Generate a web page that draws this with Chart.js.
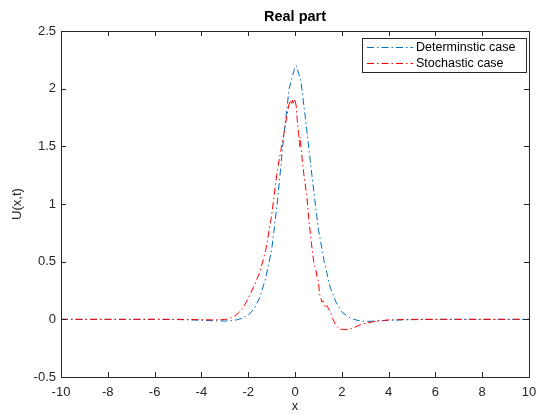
<!DOCTYPE html>
<html>
<head>
<meta charset="utf-8">
<script src="https://cdn.jsdelivr.net/npm/chart.js@4"></script>
<style>
  html, body { margin: 0; padding: 0; background: #fff; }
  #wrap { width: 537px; height: 414px; }
</style>
</head>
<body>
<div id="wrap"><canvas id="chart" width="537" height="414"></canvas></div>
<script>
// values
const chartTitle = 'Real part';
const xLabel = 'x';
const yLabel = 'U(x,t)';
const seriesNames = ['Determinstic case', 'Stochastic case'];
const seriesColors = ['#0072BD', '#FF0000'];

const detX = [-10, -6, -5, -4, -3.5, -3, -2.75, -2.5, -2.25, -2, -1.75, -1.5, -1.25, -1, -0.75, -0.5, -0.25, 0, 0.05, 0.25, 0.5, 0.75, 1, 1.25, 1.5, 1.75, 2, 2.25, 2.5, 2.75, 3, 3.5, 4, 5, 6, 10];
const detY = [0, 0, -0.002, -0.008, -0.012, -0.015, -0.012, -0.005, 0.01, 0.035, 0.09, 0.19, 0.36, 0.6, 1.02, 1.55, 2.0, 2.19, 2.2, 2.07, 1.65, 1.2, 0.78, 0.5, 0.28, 0.15, 0.065, 0.025, 0, -0.012, -0.018, -0.015, -0.008, -0.003, 0, 0];

const stoX = [-10, -8, -6, -5, -4, -3.5, -3, -2.75, -2.5, -2.25, -2, -1.75, -1.5, -1.25, -1, -0.75, -0.5, -0.35, -0.25, -0.2, -0.15, -0.1, -0.05, 0, 0.05, 0.1, 0.15, 0.2, 0.22, 0.3, 0.4, 0.5, 0.6, 0.7, 0.8, 0.85, 0.9, 0.95, 1, 1.05, 1.15, 1.2, 1.25, 1.3, 1.35, 1.5, 1.6, 1.75, 1.9, 2.25, 2.5, 2.75, 3, 3.5, 4, 5, 10];
const stoY = [0, 0, 0, 0, -0.003, -0.005, -0.002, 0.01, 0.04, 0.09, 0.18, 0.29, 0.41, 0.6, 0.9, 1.3, 1.58, 1.76, 1.87, 1.9, 1.86, 1.9, 1.87, 1.91, 1.85, 1.72, 1.62, 1.5, 1.58, 1.4, 1.22, 1.08, 0.85, 0.66, 0.5, 0.46, 0.42, 0.36, 0.33, 0.22, 0.15, 0.16, 0.12, 0.1, 0.12, 0.07, 0.01, -0.05, -0.085, -0.09, -0.075, -0.05, -0.035, -0.015, -0.005, 0, 0];

const xTicks = [-10, -8, -6, -4, -2, 0, 2, 4, 6, 8, 10];
const yTicks = [-0.5, 0, 0.5, 1, 1.5, 2, 2.5];

const axisColor = '#262626';
const fontName = '"Liberation Sans", Arial, Helvetica, sans-serif';
const dashDot = [7, 3, 1.5, 3];

function toPoints(xs, ys) {
    return xs.map((x, i) => ({ x: x, y: ys[i] }));
}

// box, inward ticks, title and legend in MATLAB style
const matlabAxes = {
    id: 'matlabAxes',
    afterDatasetsDraw(chart) {
        const ctx = chart.ctx;
        const a = chart.chartArea;
        const xs = chart.scales.x;
        const ys = chart.scales.y;
        ctx.save();
        ctx.strokeStyle = axisColor;
        ctx.lineWidth = 1;
        ctx.setLineDash([]);
        ctx.strokeRect(Math.round(a.left) + 0.5, Math.round(a.top) + 0.5,
            Math.round(a.right - a.left), Math.round(a.bottom - a.top));
        ctx.beginPath();
        xTicks.forEach(v => {
            const p = Math.round(xs.getPixelForValue(v)) + 0.5;
            ctx.moveTo(p, a.bottom); ctx.lineTo(p, a.bottom - 5);
            ctx.moveTo(p, a.top); ctx.lineTo(p, a.top + 5);
        });
        yTicks.forEach(v => {
            const p = Math.round(ys.getPixelForValue(v)) + 0.5;
            ctx.moveTo(a.left, p); ctx.lineTo(a.left + 5, p);
            ctx.moveTo(a.right, p); ctx.lineTo(a.right - 5, p);
        });
        ctx.stroke();

        // title
        ctx.fillStyle = '#000';
        ctx.font = 'bold 14.5px ' + fontName;
        ctx.textAlign = 'center';
        ctx.textBaseline = 'alphabetic';
        ctx.fillText(chartTitle, (a.left + a.right) / 2, 21);

        // legend
        const lx = 362, ly = 38, lw = 164, lh = 34;
        ctx.fillStyle = '#fff';
        ctx.fillRect(lx, ly, lw, lh);
        ctx.strokeStyle = axisColor;
        ctx.strokeRect(lx + 0.5, ly + 0.5, lw, lh);
        ctx.font = '12.5px ' + fontName;
        ctx.textAlign = 'left';
        ctx.textBaseline = 'middle';
        seriesNames.forEach((name, i) => {
            const yy = ly + 9.5 + i * 16;
            ctx.strokeStyle = seriesColors[i];
            ctx.setLineDash(dashDot);
            ctx.beginPath();
            ctx.moveTo(lx + 5, yy); ctx.lineTo(lx + 51, yy);
            ctx.stroke();
            ctx.setLineDash([]);
            ctx.fillStyle = '#000';
            ctx.fillText(name, lx + 54, yy);
        });
        ctx.restore();
    }
};

new Chart(document.getElementById('chart'), {
    type: 'line',
    data: {
        datasets: [
            {
                label: seriesNames[0],
                data: toPoints(detX, detY),
                borderColor: seriesColors[0],
                borderWidth: 1,
                borderDash: dashDot,
                pointRadius: 0,
                tension: 0,
                order: 1
            },
            {
                label: seriesNames[1],
                data: toPoints(stoX, stoY),
                borderColor: seriesColors[1],
                borderWidth: 1,
                borderDash: dashDot,
                pointRadius: 0,
                tension: 0,
                order: 0
            }
        ]
    },
    options: {
        responsive: false,
        animation: false,
        layout: { padding: { top: 31, right: 8, left: 0, bottom: 0 } },
        plugins: {
            legend: { display: false },
            title: { display: false },
            tooltip: { enabled: false }
        },
        scales: {
            x: {
                type: 'linear',
                min: -10,
                max: 10,
                afterBuildTicks: s => { s.ticks = xTicks.map(v => ({ value: v })); },
                afterFit: s => { s.height = 37; s.paddingLeft = 0; s.paddingRight = 0; },
                grid: { display: false, drawTicks: false },
                border: { display: false },
                ticks: { color: axisColor, padding: 8, maxRotation: 0, font: { family: fontName, size: 13 } },
                title: { display: true, text: xLabel, color: axisColor, padding: 0, font: { family: fontName, size: 13 } }
            },
            y: {
                type: 'linear',
                min: -0.5,
                max: 2.5,
                afterBuildTicks: s => { s.ticks = yTicks.map(v => ({ value: v })); },
                afterFit: s => { s.width = 61; s.paddingTop = 0; s.paddingBottom = 0; },
                grid: { display: false, drawTicks: false },
                border: { display: false },
                ticks: { color: axisColor, padding: 5, font: { family: fontName, size: 13 }, callback: v => String(v) },
                title: { display: true, text: yLabel, color: axisColor, padding: { top: 10, bottom: 0 }, font: { family: fontName, size: 13 } }
            }
        }
    },
    plugins: [matlabAxes]
});
</script>
</body>
</html>
